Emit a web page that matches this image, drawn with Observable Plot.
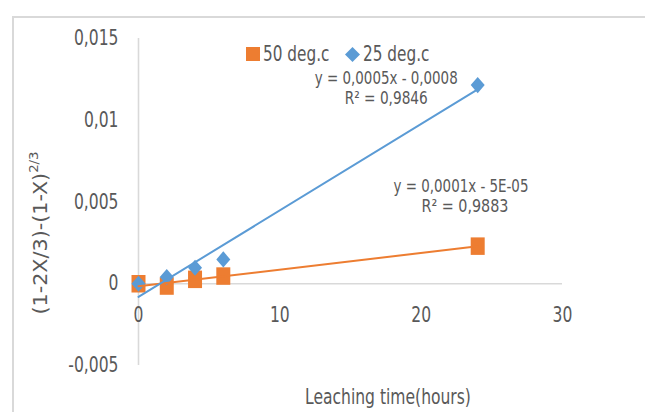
<!DOCTYPE html>
<html><head><meta charset="utf-8">
<script src="https://cdn.jsdelivr.net/npm/d3@7"></script>
<script src="https://cdn.jsdelivr.net/npm/@observablehq/plot@0.6"></script>
<style>
body{margin:0;background:#fff;}
#wrap{position:relative;width:645px;height:412px;overflow:hidden;font-family:"DejaVu Sans Condensed","Open Sans",sans-serif;color:#595959;}
#frame{position:absolute;left:12px;top:16px;width:700px;height:500px;border:2px solid #d9d9d9;box-sizing:border-box;}
#chart{position:absolute;left:0;top:0;}
.lg{position:absolute;top:43px;height:22px;font-size:17px;line-height:22px;white-space:nowrap;display:flex;align-items:center;}
.lg .t{display:inline-block;transform:scaleY(1.2);}
.sw{display:inline-block;margin-right:3px;}
#ylab{position:absolute;left:40px;top:233px;font-size:19.5px;white-space:nowrap;transform-origin:center;}
#ylab sup{font-size:12.5px;vertical-align:9px;line-height:0;}
#xlab{position:absolute;left:388px;top:397px;transform:translate(-50%,-50%) scaleY(1.2);font-size:17.3px;white-space:nowrap;}
</style></head>
<body>
<div id="wrap">
  <div id="frame"></div>
  <div id="chart"></div>
  <div class="lg" style="left:246px"><span class="sw" style="width:14px;height:14px;background:#ED7D31"></span><span class="t" id="lg0"></span></div>
  <div class="lg" style="left:345px"><svg class="sw" width="15" height="15" viewBox="0 0 15 15"><path d="M7.5 0L15 7.5L7.5 15L0 7.5Z" fill="#5B9BD5"/></svg><span class="t" id="lg1"></span></div>
  <div id="ylab">(1-2X/3)-(1-X)<sup>2/3</sup></div>
  <div id="xlab"></div>
</div>
<script>
const times = [0, 2, 4, 6, 24];
const series50 = [0, -0.00014, 0.00027, 0.00047, 0.0023];
const series25 = [0, 0.00041, 0.00098, 0.00149, 0.01215];
const seriesNames = ["50 deg.c", "25 deg.c"];
const seriesColors = ["#ED7D31", "#5B9BD5"];
const xTicks = [0, 10, 20, 30];
const yTicks = [-0.005, 0, 0.005, 0.01, 0.015];
const yTickLabels = ["-0,005", "0", "0,005", "0,01", "0,015"];
const trend50 = ["y = 0,0001x - 5E-05", "R² = 0,9883"];
const trend25 = ["y = 0,0005x - 0,0008", "R² = 0,9846"];
const xTitle = "Leaching time(hours)";

document.getElementById("lg0").textContent = seriesNames[0];
document.getElementById("lg1").textContent = seriesNames[1];
document.getElementById("xlab").textContent = xTitle;

const rows = times.flatMap((t, i) => [
  {t, v: series50[i], s: seriesNames[0]},
  {t, v: series25[i], s: seriesNames[1]}
]);

const squareSym = {draw(ctx, size) {const w = Math.sqrt(size) / 2, h = w * 1.25; ctx.rect(-w, -h, 2 * w, 2 * h);}};
const diamondSym = {draw(ctx, size) {const w = Math.sqrt(size) / 2, h = w * 1.15; ctx.moveTo(0, -h); ctx.lineTo(w, 0); ctx.lineTo(0, h); ctx.lineTo(-w, 0); ctx.closePath();}};

const FONT = '"DejaVu Sans Condensed","Open Sans",sans-serif';
const chart = Plot.plot({
  width: 645,
  height: 412,
  marginLeft: 138,
  marginRight: 83,
  marginTop: 38,
  marginBottom: 47,
  style: {fontFamily: FONT, color: "#595959", background: "transparent", overflow: "visible"},
  x: {domain: [0, 30], axis: null},
  y: {domain: [-0.005, 0.015], axis: null},
  color: {domain: seriesNames, range: seriesColors},
  marks: [
    Plot.ruleY([0], {x1: 0, x2: 30, stroke: "#d9d9d9", strokeWidth: 1.6}),
    Plot.ruleX([0], {y1: -0.005, y2: 0.015, stroke: "#d9d9d9", strokeWidth: 1.6}),
    Plot.text(yTicks, {x: 0, y: d => d, text: d => yTickLabels[yTicks.indexOf(d)], textAnchor: "end", dx: -20, fontSize: 17.3, fill: "#595959"}),
    Plot.text(xTicks, {x: d => d, y: 0, text: d => String(d), dy: 32, fontSize: 17.3, fill: "#595959"}),
    Plot.dot(rows.filter(d => d.s === seriesNames[0]), {x: "t", y: "v", fill: "s", symbol: squareSym, r: 7.9}),
    Plot.dot(rows.filter(d => d.s === seriesNames[1]), {x: "t", y: "v", fill: "s", symbol: diamondSym, r: 7.9}),
    Plot.linearRegressionY(rows, {x: "t", y: "v", stroke: "s", ci: 0, strokeWidth: 2}),
    Plot.text([trend25[0]], {x: 17.53, y: 0.01258, fontSize: 14, fill: "#595959"}),
    Plot.text([trend25[1]], {x: 17.53, y: 0.01134, fontSize: 14, fill: "#595959"}),
    Plot.text([trend50[0]], {x: 22.82, y: 0.00595, fontSize: 14, fill: "#595959"}),
    Plot.text([trend50[1]], {x: 23.1, y: 0.00472, fontSize: 14, fill: "#595959"})
  ]
});
document.getElementById("chart").appendChild(chart);

// widths the trend-line labels span in the reference
const fitWidth = new Map([[trend25[0], 143], [trend25[1], 83], [trend50[0], 135], [trend50[1], 87]]);
// stretch glyphs vertically (like the reference's tall typeface) about each text's own centre
chart.querySelectorAll("text").forEach(t => {
  const r = t.getBoundingClientRect();
  const p = t.parentNode;
  const m = p.getScreenCTM().inverse();
  const pt = chart.createSVGPoint();
  pt.x = r.left + r.width / 2; pt.y = r.top + r.height / 2;
  const c = pt.matrixTransform(m);
  const sx = fitWidth.has(t.textContent) ? fitWidth.get(t.textContent) / r.width : 1;
  const g = document.createElementNS("http://www.w3.org/2000/svg", "g");
  g.setAttribute("transform", `translate(${c.x},${c.y}) scale(${sx},1.2) translate(${-c.x},${-c.y})`);
  p.insertBefore(g, t);
  g.appendChild(t);
});

// y-axis title: rotate and stretch along its length to the reference's extent (163px)
const yl = document.getElementById("ylab");
const s = 163 / yl.offsetWidth;
yl.style.transform = `translate(-50%,-50%) rotate(-90deg) scaleX(${s})`;
</script>
</body></html>
